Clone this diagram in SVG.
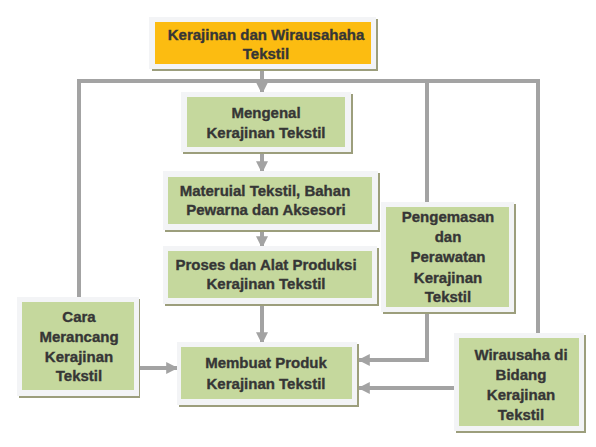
<svg xmlns="http://www.w3.org/2000/svg" width="596" height="447" viewBox="0 0 596 447">
<defs>
<style>
.sh{fill:#9c9e7c}
.fr{fill:#f3f4f6}
.in{fill:#c5d89d}
.or{fill:#fcbc11}
.t{font-family:"Liberation Sans",Arial,sans-serif;font-weight:bold;font-size:15px;fill:#363636;stroke:#363636;stroke-width:0.35;text-anchor:middle}
.ln{fill:none;stroke:#a3a3a3;stroke-width:4}
</style>
<marker id="ah" viewBox="0 0 10 10" refX="9" refY="5" markerWidth="3" markerHeight="3" markerUnits="strokeWidth" orient="auto">
<path d="M0,0 L10,5 L0,10 z" fill="#a3a3a3"/>
</marker>
</defs>
<rect width="596" height="447" fill="#ffffff"/>
<g id="connectors">
<polyline class="ln" points="79,297 79,81 538,81 538,333"/>
<line class="ln" x1="427" y1="81" x2="427" y2="202"/>
<line class="ln" x1="262" y1="70" x2="262" y2="93" marker-end="url(#ah)"/>
<line class="ln" x1="262" y1="152" x2="262" y2="172" marker-end="url(#ah)"/>
<line class="ln" x1="262" y1="230" x2="262" y2="247" marker-end="url(#ah)"/>
<line class="ln" x1="262" y1="305" x2="262" y2="343" marker-end="url(#ah)"/>
<line class="ln" x1="140" y1="368" x2="177" y2="368" marker-end="url(#ah)"/>
<polyline class="ln" points="427,313 427,360 359,360" marker-end="url(#ah)"/>
<line class="ln" x1="454" y1="388" x2="359" y2="388" marker-end="url(#ah)"/>
</g>
<g id="n-top">
<rect class="sh" x="152" y="19" width="226" height="52"/>
<rect class="fr" x="149" y="17" width="227" height="52"/>
<rect class="or" x="155" y="22" width="216" height="42"/>
<text class="t" x="266" y="40">Kerajinan dan Wirausahaha</text>
<text class="t" x="266" y="59">Tekstil</text>
</g>
<g id="n-mengenal">
<rect class="sh" x="183" y="94" width="170" height="60"/>
<rect class="fr" x="181" y="92" width="170" height="60"/>
<rect class="in" x="187" y="97" width="158" height="50"/>
<text class="t" x="266" y="118">Mengenal</text>
<text class="t" x="266" y="138">Kerajinan Tekstil</text>
</g>
<g id="n-materuial">
<rect class="sh" x="165" y="173" width="215" height="59"/>
<rect class="fr" x="163" y="171" width="215" height="59"/>
<rect class="in" x="168" y="177" width="204" height="47"/>
<text class="t" x="265" y="196">Materuial Tekstil, Bahan</text>
<text class="t" x="266" y="215">Pewarna dan Aksesori</text>
</g>
<g id="n-proses">
<rect class="sh" x="165" y="248" width="214" height="58"/>
<rect class="fr" x="163" y="246" width="214" height="58"/>
<rect class="in" x="168" y="251" width="204" height="47"/>
<text class="t" x="266" y="270">Proses dan Alat Produksi</text>
<text class="t" x="266" y="289">Kerajinan Tekstil</text>
</g>
<g id="n-pengemasan">
<rect class="sh" x="383" y="204" width="133" height="110"/>
<rect class="fr" x="381" y="202" width="133" height="110"/>
<rect class="in" x="386" y="207" width="123" height="100"/>
<text class="t" x="448" y="222">Pengemasan</text>
<text class="t" x="448" y="242">dan</text>
<text class="t" x="448" y="262">Perawatan</text>
<text class="t" x="448" y="283">Kerajinan</text>
<text class="t" x="448" y="302">Tekstil</text>
</g>
<g id="n-cara">
<rect class="sh" x="19" y="299" width="121" height="99"/>
<rect class="fr" x="17" y="297" width="122" height="99"/>
<rect class="in" x="22" y="302" width="112" height="88"/>
<text class="t" x="79" y="322">Cara</text>
<text class="t" x="79" y="342">Merancang</text>
<text class="t" x="79" y="362">Kerajinan</text>
<text class="t" x="79" y="381">Tekstil</text>
</g>
<g id="n-membuat">
<rect class="sh" x="179" y="344" width="180" height="63"/>
<rect class="fr" x="177" y="342" width="180" height="63"/>
<rect class="in" x="181" y="347" width="171" height="52"/>
<text class="t" x="266" y="368">Membuat Produk</text>
<text class="t" x="266" y="389">Kerajinan Tekstil</text>
</g>
<g id="n-wirausaha">
<rect class="sh" x="456" y="335" width="130" height="98"/>
<rect class="fr" x="454" y="333" width="130" height="98"/>
<rect class="in" x="459" y="338" width="120" height="88"/>
<text class="t" x="521" y="360">Wirausaha di</text>
<text class="t" x="521" y="380">Bidang</text>
<text class="t" x="521" y="400">Kerajinan</text>
<text class="t" x="521" y="420">Tekstil</text>
</g>
</svg>
